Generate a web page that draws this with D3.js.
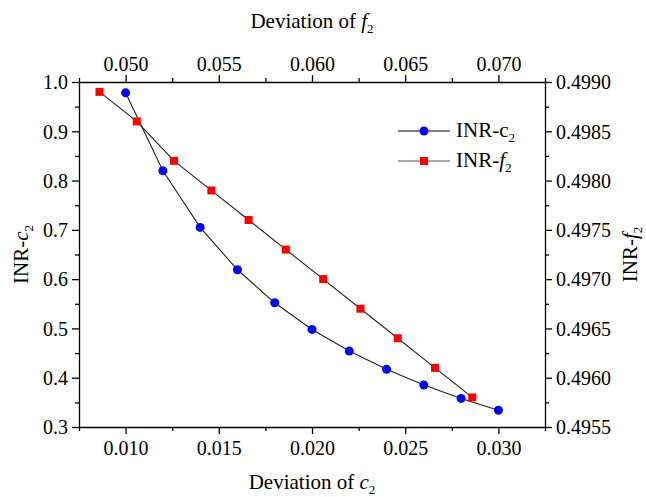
<!DOCTYPE html>
<html>
<head>
<meta charset="utf-8">
<script src="https://cdn.jsdelivr.net/npm/d3@7"></script>
<style>
  body { margin: 0; background: #fff; }
  svg text { font-family: "Liberation Serif", "Times New Roman", Times, serif; fill: #000; }
  .axis path, .axis line { stroke: #000; stroke-width: 1.3; }
</style>
</head>
<body>
<div id="chart"></div>
<script>
// c2 series (bottom / left axes)
var c2Dev = [0.010, 0.012, 0.014, 0.016, 0.018, 0.020, 0.022, 0.024, 0.026, 0.028, 0.030];
var inrC2 = [0.978, 0.820, 0.705, 0.619, 0.552, 0.498, 0.454, 0.417, 0.385, 0.358, 0.334];

// f2 series (top / right axes)
var f2Dev = [0.0486, 0.0506, 0.0526, 0.0546, 0.0566, 0.0586, 0.0606, 0.0626, 0.0646, 0.0666, 0.0686];
var inrF2 = [0.4989, 0.4986, 0.4982, 0.4979, 0.4976, 0.4973, 0.4970, 0.4967, 0.4964, 0.4961, 0.4958];

// tick values
var bottomTicks = [0.010, 0.015, 0.020, 0.025, 0.030];
var bottomMinor = [0.0075, 0.0125, 0.0175, 0.0225, 0.0275, 0.0325];
var topTicks = [0.050, 0.055, 0.060, 0.065, 0.070];
var topMinor = [0.0475, 0.0525, 0.0575, 0.0625, 0.0675, 0.0725];
var leftTicks = [0.3, 0.4, 0.5, 0.6, 0.7, 0.8, 0.9, 1.0];
var leftMinor = [0.35, 0.45, 0.55, 0.65, 0.75, 0.85, 0.95];
var rightTicks = [0.4955, 0.4960, 0.4965, 0.4970, 0.4975, 0.4980, 0.4985, 0.4990];
var rightMinor = [0.49575, 0.49625, 0.49675, 0.49725, 0.49775, 0.49825, 0.49875];

var FONT = "'Liberation Serif', 'Times New Roman', serif";
var W = 646, H = 497;
var margin = { top: 82, right: 101, bottom: 70, left: 79 };
var width = W - margin.left - margin.right;
var height = H - margin.top - margin.bottom;

var svg = d3.select("#chart").append("svg")
  .attr("width", W).attr("height", H)
  .attr("font-family", FONT);

var g = svg.append("g")
  .attr("transform", "translate(" + margin.left + "," + margin.top + ")");

var xBottom = d3.scaleLinear().domain([0.0075, 0.0325]).range([0, width]);
var xTop = d3.scaleLinear().domain([0.0475, 0.0725]).range([0, width]);
var yLeft = d3.scaleLinear().domain([0.3, 1.0]).range([height, 0]);
var yRight = d3.scaleLinear().domain([0.4955, 0.4990]).range([height, 0]);

// axes: majors with labels, minors without
function addAxis(axisFn, scale, major, minor, fmt, transform) {
  var ax = g.append("g").attr("class", "axis").attr("transform", transform || null);
  ax.call(axisFn(scale).tickValues(major).tickFormat(d3.format(fmt))
    .tickSize(7).tickSizeOuter(0).tickPadding(4));
  ax.attr("font-family", FONT);
  ax.selectAll("text").style("font-size", "20px");
  var mn = g.append("g").attr("class", "axis").attr("transform", transform || null);
  mn.call(axisFn(scale).tickValues(minor).tickFormat("").tickSize(4).tickSizeOuter(0));
  mn.select(".domain").remove();
  return ax;
}

addAxis(d3.axisBottom, xBottom, bottomTicks, bottomMinor, ".3f", "translate(0," + height + ")")
  .selectAll("text").attr("dy", "0.85em");
addAxis(d3.axisTop, xTop, topTicks, topMinor, ".3f");
addAxis(d3.axisLeft, yLeft, leftTicks, leftMinor, ".1f")
  .selectAll("text").attr("dy", "0.34em");
addAxis(d3.axisRight, yRight, rightTicks, rightMinor, ".4f", "translate(" + width + ",0)")
  .selectAll("text").attr("dy", "0.34em");

// lines
var c2Data = c2Dev.map(function (d, i) { return [d, inrC2[i]]; });
var f2Data = f2Dev.map(function (d, i) { return [d, inrF2[i]]; });

var c2Line = d3.line().x(function (d) { return xBottom(d[0]); }).y(function (d) { return yLeft(d[1]); });
var f2Line = d3.line().x(function (d) { return xTop(d[0]); }).y(function (d) { return yRight(d[1]); });

g.append("path").datum(c2Data).attr("d", c2Line)
  .attr("fill", "none").attr("stroke", "#222").attr("stroke-width", 1.1);
g.append("path").datum(f2Data).attr("d", f2Line)
  .attr("fill", "none").attr("stroke", "#222").attr("stroke-width", 1.1);

g.selectAll(".dot-c2").data(c2Data).enter().append("circle")
  .attr("class", "dot-c2")
  .attr("cx", function (d) { return xBottom(d[0]); })
  .attr("cy", function (d) { return yLeft(d[1]); })
  .attr("r", 4.5)
  .attr("fill", "#0000ff");

g.selectAll(".dot-f2").data(f2Data).enter().append("rect")
  .attr("class", "dot-f2")
  .attr("x", function (d) { return xTop(d[0]) - 4; })
  .attr("y", function (d) { return yRight(d[1]) - 4; })
  .attr("width", 8).attr("height", 8)
  .attr("fill", "#ff0000");

// legend
var legend = svg.append("g");
legend.append("line").attr("x1", 398).attr("x2", 450).attr("y1", 131).attr("y2", 131)
  .attr("stroke", "#000").attr("stroke-width", 1.1);
legend.append("circle").attr("cx", 424).attr("cy", 131).attr("r", 4.5).attr("fill", "#0000ff");
var t1 = legend.append("text").attr("x", 456).attr("y", 137).style("font-size", "21px");
t1.append("tspan").text("INR-c");
t1.append("tspan").attr("dy", 5).style("font-size", "13px").text("2");

legend.append("line").attr("x1", 398).attr("x2", 450).attr("y1", 161).attr("y2", 161)
  .attr("stroke", "#555").attr("stroke-width", 1.1);
legend.append("rect").attr("x", 420).attr("y", 157).attr("width", 8).attr("height", 8).attr("fill", "#ff0000");
var t2 = legend.append("text").attr("x", 456).attr("y", 167).style("font-size", "21px");
t2.append("tspan").text("INR-");
t2.append("tspan").style("font-style", "italic").text("f");
t2.append("tspan").attr("dy", 5).style("font-size", "13px").text("2");

// axis titles
function title(sel, base, sym) {
  sel.append("tspan").text(base);
  sel.append("tspan").style("font-style", "italic").text(sym);
  sel.append("tspan").attr("dy", 5).style("font-size", "13px").text("2");
}

var cx = margin.left + width / 2;
var cy = margin.top + height / 2;

title(svg.append("text").attr("x", cx).attr("y", 28).attr("text-anchor", "middle")
  .style("font-size", "21px"), "Deviation of ", "f");
title(svg.append("text").attr("x", cx).attr("y", 489).attr("text-anchor", "middle")
  .style("font-size", "21px"), "Deviation of ", "c");
title(svg.append("text").attr("text-anchor", "middle")
  .attr("transform", "translate(28," + cy + ") rotate(-90)")
  .style("font-size", "21px"), "INR-", "c");
title(svg.append("text").attr("text-anchor", "middle")
  .attr("transform", "translate(637," + cy + ") rotate(-90)")
  .style("font-size", "21px"), "INR-", "f");
</script>
</body>
</html>
